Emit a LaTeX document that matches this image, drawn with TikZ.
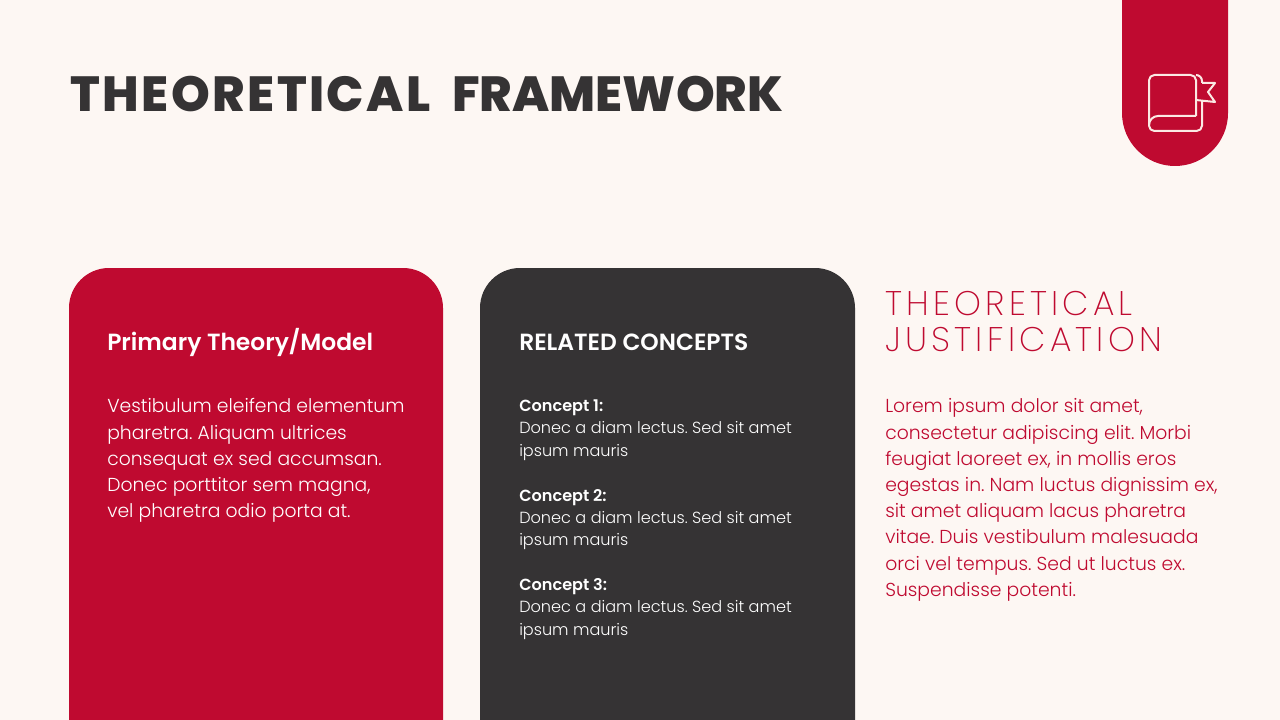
\documentclass[tikz,border=0pt]{standalone}
\usepackage{fontspec}
\usepackage{xcolor}
\setmainfont{Poppins}[UprightFont=* Light, BoldFont=* SemiBold]
\newfontfamily\titlefont{Poppins ExtraBold}[LetterSpace=5]
\newfontfamily\titletightfont{Poppins ExtraBold}
\newfontfamily\thinfont{Poppins ExtraLight}[LetterSpace=12.5]
\usetikzlibrary{positioning, calc}
\definecolor{crimson}{HTML}{BF0A30}
\definecolor{charcoal}{HTML}{353334}
\definecolor{paper}{HTML}{FDF7F3}
\definecolor{iconline}{HTML}{FBE9E4}
\newcommand{\bodyfont}{\fontsize{14.08}{19.65}\selectfont\frenchspacing}
\newcommand{\smallfont}{\fontsize{12.08}{16.8}\selectfont\frenchspacing}

\begin{document}
\begin{tikzpicture}[
    x=0.75pt, y=-0.75pt,
    % Cards and text
    headtext/.style={text=white, inner sep=0pt, anchor=base west, font=\fontsize{17.55}{20}\selectfont\bfseries},
    bodytext/.style={inner sep=0pt, anchor=north west, align=left, font=\bodyfont},
    smalltext/.style={text=white, inner sep=0pt, anchor=north west, align=left, font=\smallfont},
    iconpath/.style={draw=iconline, line width=1.5pt, line join=round}
]

% Page
\path[use as bounding box, clip] (0,0) rectangle (1280,720);
\fill[paper] (0,0) rectangle (1280,720);

% Title
\node[anchor=base west, inner sep=0pt, text=charcoal, font=\fontsize{37}{40}\selectfont] (title) at (70,112) {{\titlefont THEORETICAL} \hspace{6pt}{\titletightfont FRAMEWORK}};

% Tab with the book icon
\fill[crimson] (1122,-5) -- (1228,-5) -- (1228,113) arc[start angle=0, end angle=180, radius=53] -- cycle;
\draw[iconpath, rounded corners=4pt] (1196,116) -- (1196,75) -- (1149,75) -- (1149,131) -- (1202,131) -- (1202,101);
\draw[iconpath] (1149,125) arc[start angle=180, end angle=270, radius=9] -- (1196,116);
\draw[iconpath] (1196,75) arc[start angle=270, end angle=360, radius=6] -- (1202,83);
\draw[iconpath] (1202,83) -- (1215,83) -- (1208,92) -- (1215,102) -- (1196,100);

% Left card
\fill[crimson, rounded corners=30pt] (69,268) rectangle (443,780);
\node[headtext] (primary) at (107,350) {Primary Theory/Model};
\node[bodytext, text=white] (primarytext) at (107,398.5) {Vestibulum eleifend elementum\\pharetra. Aliquam ultrices\\consequat ex sed accumsan.\\Donec porttitor sem magna,\\vel pharetra odio porta at.};

% Middle card
\fill[charcoal, rounded corners=30pt] (480,268) rectangle (855,780);
\node[headtext] (related) at (519,350) {RELATED CONCEPTS};
\node[smalltext] (conceptone) at (519,399.3) {\textbf{Concept 1:}\\Donec a diam lectus. Sed sit amet\\ipsum mauris};
\node[smalltext] (concepttwo) at (519,488.8) {\textbf{Concept 2:}\\Donec a diam lectus. Sed sit amet\\ipsum mauris};
\node[smalltext] (conceptthree) at (519,578.3) {\textbf{Concept 3:}\\Donec a diam lectus. Sed sit amet\\ipsum mauris};

% Right column
\node[inner sep=0pt, anchor=north west, align=left, text=crimson, font=\fontsize{25.6}{27}\thinfont] (justify) at (885,291) {THEORETICAL\\JUSTIFICATION};
\node[bodytext, text=crimson] (justifytext) at (885,398.5) {Lorem ipsum dolor sit amet,\\consectetur adipiscing elit. Morbi\\feugiat laoreet ex, in mollis eros\\egestas in. Nam luctus dignissim ex,\\sit amet aliquam lacus pharetra\\vitae. Duis vestibulum malesuada\\orci vel tempus. Sed ut luctus ex.\\Suspendisse potenti.};

\end{tikzpicture}
\end{document}
